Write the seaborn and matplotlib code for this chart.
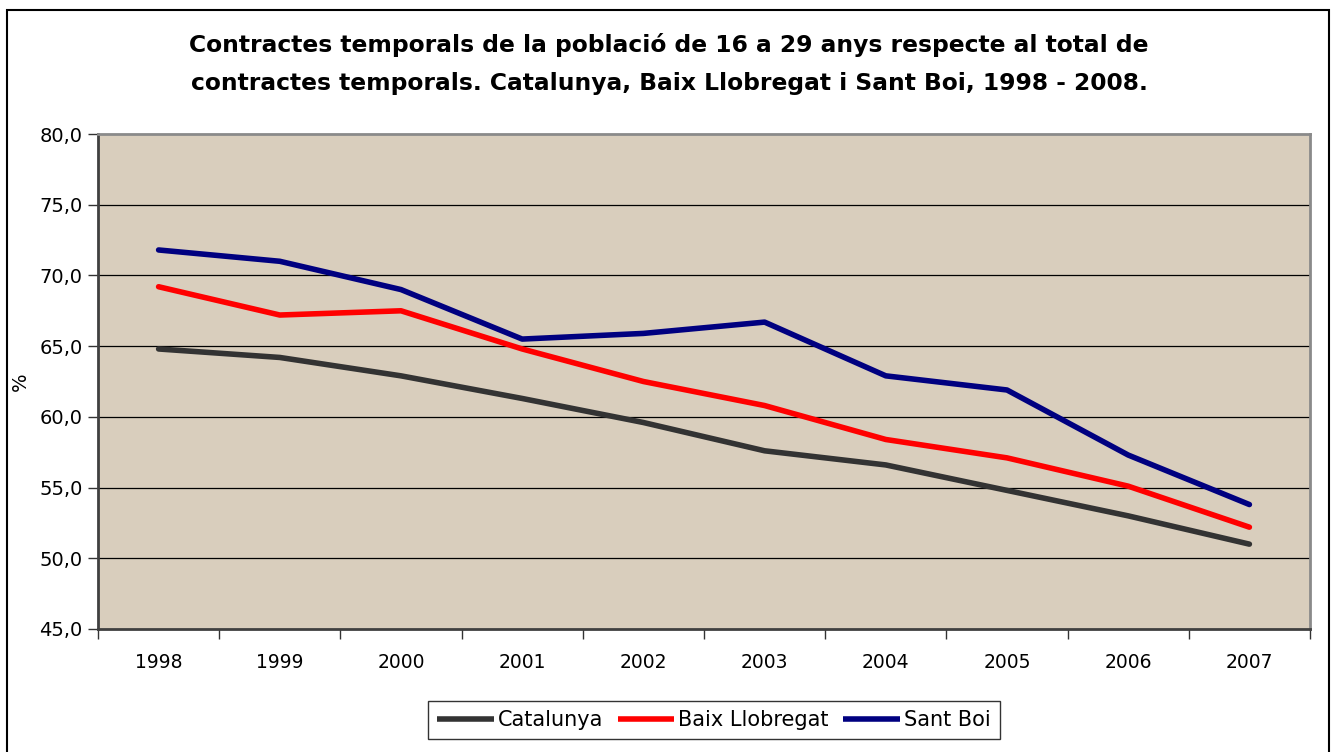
import matplotlib
matplotlib.use("Agg")
import matplotlib.pyplot as plt
from matplotlib.patches import Rectangle
from matplotlib.lines import Line2D
import seaborn as sns
import pandas as pd

years = ["1998", "1999", "2000", "2001", "2002", "2003", "2004", "2005", "2006", "2007"]
catalunya = [64.8, 64.2, 62.9, 61.3, 59.6, 57.6, 56.6, 54.8, 53.0, 51.0]
baix_llobregat = [69.2, 67.2, 67.5, 64.8, 62.5, 60.8, 58.4, 57.1, 55.1, 52.2]
sant_boi = [71.8, 71.0, 69.0, 65.5, 65.9, 66.7, 62.9, 61.9, 57.3, 53.8]
series_names = ["Catalunya", "Baix Llobregat", "Sant Boi"]
colors = ["#333333", "#ff0000", "#000080"]
title = ("Contractes temporals de la població de 16 a 29 anys respecte al total de\n"
         "contractes temporals. Catalunya, Baix Llobregat i Sant Boi, 1998 - 2008.")

rows = []
for name, vals in zip(series_names, [catalunya, baix_llobregat, sant_boi]):
    for i, (y, v) in enumerate(zip(years, vals)):
        rows.append({"pos": i, "year": y, "value": v, "serie": name})
df = pd.DataFrame(rows)

sns.set_theme(style="white")
plt.rcParams['font.family'] = ['DejaVu Sans']
plt.rcParams['text.color'] = 'black'
plt.rcParams['xtick.color'] = 'black'
plt.rcParams['ytick.color'] = 'black'
plt.rcParams['axes.labelcolor'] = 'black'

fig = plt.figure(figsize=(13.32, 7.52), dpi=100)
ax = fig.add_axes([98/1332, 1-629/752, (1310-98)/1332, (629-134)/752])
ax.set_facecolor("#d9cebd")

sns.lineplot(data=df, x="pos", y="value", hue="serie", palette=colors,
             hue_order=series_names, linewidth=4, ax=ax, legend=False, zorder=3)

yt = [45, 50, 55, 60, 65, 70, 75, 80]
ax.set_ylim(45, 80)
ax.set_yticks(yt)
ax.set_yticklabels([f"{v:.1f}".replace(".", ",") for v in yt], fontsize=14)
for v in [50, 55, 60, 65, 70, 75]:
    ax.axhline(v, color="black", linewidth=0.9, zorder=2)

ax.set_xlim(-0.5, len(years) - 0.5)
ax.set_xticks([i - 0.5 for i in range(len(years) + 1)])
ax.set_xticklabels([])
ax.set_xticks(list(range(len(years))), minor=True)
ax.set_xticklabels(years, minor=True, fontsize=13.5)
ax.tick_params(axis="x", which="major", length=7, width=1, color="#333333", direction="out", bottom=True)
ax.tick_params(axis="x", which="minor", length=0, pad=17)
ax.tick_params(axis="y", length=7, width=1, color="#333333", direction="out", left=True, pad=4)

ax.set_xlabel("")
ax.set_ylabel("%", fontsize=14)
ax.yaxis.set_label_coords(-(98 - 30) / 1212, (629 - 382) / 495)

for s in ["left", "bottom"]:
    ax.spines[s].set_color("#404040")
    ax.spines[s].set_linewidth(2)
for s in ["top", "right"]:
    ax.spines[s].set_color("#8a8a8a")
    ax.spines[s].set_linewidth(2)
    ax.spines[s].set_visible(True)

fig.text(669/1332, 1-64/752, title, ha="center", va="center", fontsize=16.8,
         fontweight="bold", linespacing=1.85)

handles = [Line2D([], [], color=c, linewidth=4, solid_capstyle="butt") for c in colors]
leg = fig.legend(handles, series_names, loc="center", bbox_to_anchor=(714/1332, 1-720/752),
                 ncol=3, frameon=True, fancybox=False, edgecolor="black", fontsize=15,
                 handlelength=2.7, handletextpad=0.2, columnspacing=0.7, borderpad=0.45)
leg.get_frame().set_linewidth(1)

fig.patches.append(Rectangle((7/1332, -0.02), 1322/1332, (752-10)/752 + 0.02,
                             transform=fig.transFigure, fill=False, edgecolor="black",
                             linewidth=1.5, zorder=10))

fig.savefig("out.png", dpi=100, facecolor="white")
